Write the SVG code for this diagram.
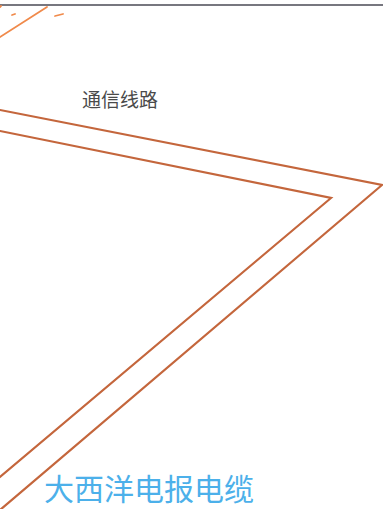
<svg xmlns="http://www.w3.org/2000/svg" width="383" height="509" viewBox="0 0 383 509">
  <style>
    .cable { fill: none; stroke: #c4663c; stroke-width: 2.2; stroke-linejoin: miter; stroke-linecap: round; }
    .frag { fill: none; stroke: #f08a4b; stroke-width: 1.8; stroke-linecap: round; }
    .label { font-family: "Noto Sans CJK SC", "Noto Sans", sans-serif; }
  </style>
  <rect x="0" y="0" width="383" height="509" fill="#ffffff"/>
  <line x1="0" y1="5" x2="383" y2="5" stroke="#4a4a55" stroke-width="1.6"/>
  <g id="fragments">
    <line class="frag" x1="0" y1="37" x2="47" y2="7"/>
    <line class="frag" x1="12" y1="15" x2="15" y2="14"/>
    <line class="frag" x1="55" y1="16" x2="63" y2="14"/>
    <line class="frag" x1="0" y1="7" x2="1" y2="6"/>
  </g>
  <g id="connectors">
    <polyline class="cable" points="0,110 382,185 0,510"/>
    <polyline class="cable" points="0,131 331,198 0,477"/>
  </g>
  <g id="label-line">
    <text class="label" x="82" y="107" font-size="19" fill="#4a4a4a">通信线路</text>
  </g>
  <g id="label-cable">
    <text class="label" x="44" y="500" font-size="30" fill="#4cb0ea">大西洋电报电缆</text>
  </g>
</svg>
